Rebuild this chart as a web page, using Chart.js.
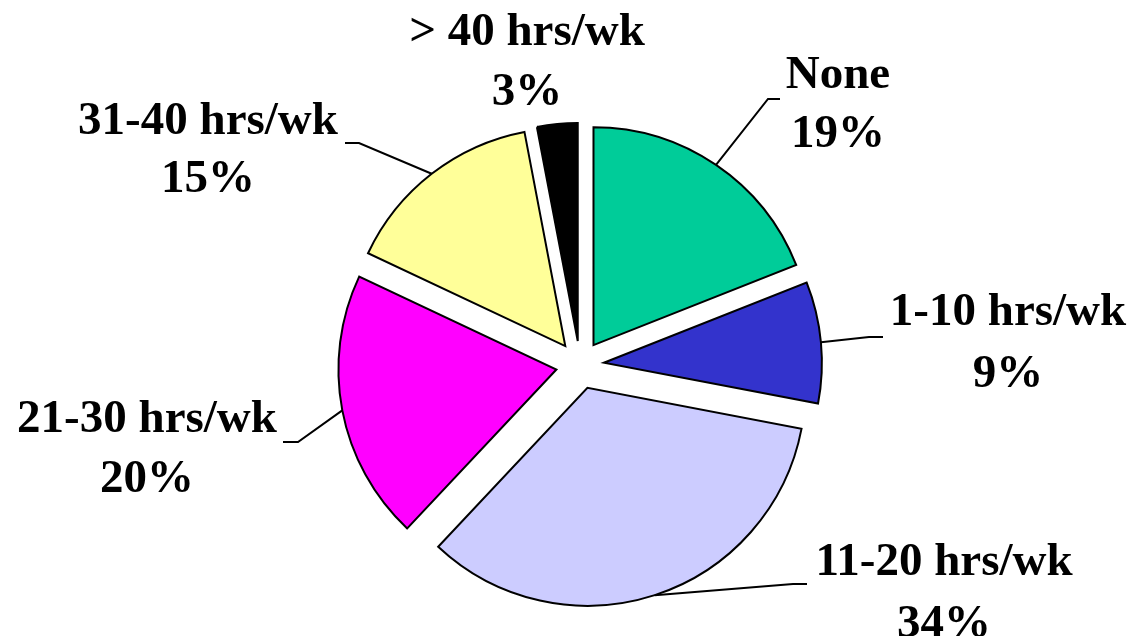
<!DOCTYPE html>
<html>
<head>
<meta charset="utf-8">
<title>Hours per week</title>
<script src="https://cdn.jsdelivr.net/npm/chart.js@4.4.1/dist/chart.umd.min.js"></script>
<style>
  html, body { margin: 0; padding: 0; background: #fff; }
  canvas { display: block; }
</style>
</head>
<body>
<canvas id="hoursChart" width="1131" height="636"></canvas>
<script>
let categories = ['None', '1-10 hrs/wk', '11-20 hrs/wk', '21-30 hrs/wk', '31-40 hrs/wk', '> 40 hrs/wk'];
let shares = [19, 9, 34, 20, 15, 3];
let sliceColors = ['#00CC99', '#3333CC', '#CCCCFF', '#FF00FF', '#FFFF99', '#000000'];

// label layout: [centre x, baseline 1, baseline 2, elbow x, elbow y, leader end x]
let labelSpots = [
    [838, 88, 147, 768, 99, 780],
    [1008, 325, 387, 869, 337, 883],
    [944, 575, 637, 793, 584, 807],
    [147, 432, 492, 298, 442, 283],
    [208, 134, 192, 359, 143, 345],
    [527, 45, 105, null, null, null]
];

const pull = 24;   // how far every slice is pulled out of the pie

function pullSlices(chart, sign) {
    chart.getDatasetMeta(0).data.forEach(arc => {
        let mid = (arc.startAngle + arc.endAngle) / 2;
        arc.x += sign * Math.cos(mid) * pull;
        arc.y += sign * Math.sin(mid) * pull;
    });
}

const explodeLabels = {
    id: 'explodeLabels',
    beforeDatasetsDraw(chart) {
        pullSlices(chart, 1);
    },
    afterDatasetsDraw(chart) {
        let ctx = chart.ctx;
        let arcs = chart.getDatasetMeta(0).data;
        ctx.save();
        ctx.strokeStyle = '#000';
        ctx.lineWidth = 2;
        ctx.fillStyle = '#000';
        ctx.font = 'bold 47px "Liberation Serif", "Times New Roman", serif';
        ctx.textAlign = 'center';
        ctx.textBaseline = 'alphabetic';

        arcs.forEach((arc, i) => {
            let spot = labelSpots[i];
            if (spot[3] !== null) {
                let mid = (arc.startAngle + arc.endAngle) / 2;
                ctx.beginPath();
                ctx.moveTo(arc.x + Math.cos(mid) * arc.outerRadius, arc.y + Math.sin(mid) * arc.outerRadius);
                ctx.lineTo(spot[3], spot[4]);
                ctx.lineTo(spot[5], spot[4]);
                ctx.stroke();
            }
            ctx.fillText(categories[i], spot[0], spot[1]);
            ctx.fillText(shares[i] + '%', spot[0], spot[2]);
        });
        ctx.restore();
        pullSlices(chart, -1);
    }
};

let ctx = document.getElementById('hoursChart').getContext('2d');
let hoursChart = new Chart(ctx, {
    type: 'pie',
    data: {
        labels: categories,
        datasets: [{
            data: shares,
            backgroundColor: sliceColors,
            borderColor: '#000',
            borderWidth: 2,
            borderJoinStyle: 'miter'
        }]
    },
    options: {
        responsive: false,
        animation: false,
        devicePixelRatio: 1,
        radius: 218,
        layout: { padding: { left: 29, top: 94, right: 0, bottom: 0 } },
        plugins: {
            legend: { display: false },
            tooltip: { enabled: false }
        },
        events: []
    },
    plugins: [explodeLabels]
});
</script>
</body>
</html>
